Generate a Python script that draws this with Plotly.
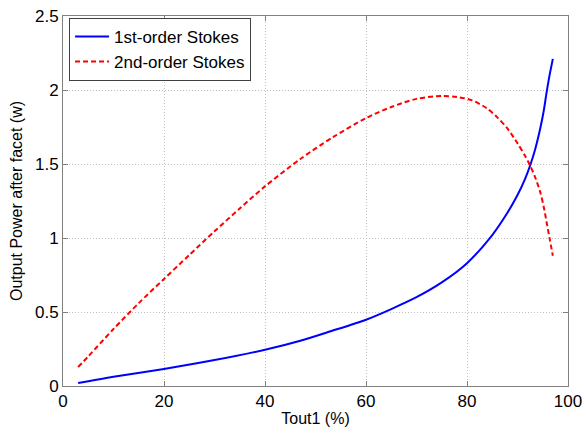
import plotly.graph_objects as go

# 1st-order Stokes
x1 = [3, 10, 20, 30, 40, 47, 53, 60, 65, 70, 75, 80, 85, 88, 90, 91.5, 92.5, 93.5, 94.5, 95.2, 95.7, 96.3, 97]
y1 = [0.02, 0.062, 0.115, 0.175, 0.245, 0.306, 0.37, 0.448, 0.52, 0.60, 0.70, 0.83, 1.02, 1.17, 1.29, 1.40, 1.49, 1.60, 1.74, 1.86, 1.97, 2.09, 2.21]

# 2nd-order Stokes
x2 = [3, 5, 10, 15, 20, 25, 30, 35, 40, 47, 53.4, 60, 65, 70, 75, 78, 81, 84, 86, 88, 90, 91.5, 92.5, 93.5, 94.5, 95.2, 95.8, 96.4, 97]
y2 = [0.128, 0.2, 0.385, 0.56, 0.723, 0.885, 1.045, 1.2, 1.349, 1.534, 1.68, 1.81, 1.885, 1.94, 1.96, 1.953, 1.93, 1.875, 1.815, 1.74, 1.64, 1.555, 1.49, 1.41, 1.31, 1.21, 1.10, 0.99, 0.88]

fig = go.Figure()
fig.add_trace(go.Scatter(x=x1, y=y1, mode="lines", name="1st-order Stokes",
                         line=dict(color="#0000ff", width=2, shape="spline", smoothing=0.8)))
fig.add_trace(go.Scatter(x=x2, y=y2, mode="lines", name="2nd-order Stokes",
                         line=dict(color="#ff0000", width=2, dash="5px,3px", shape="spline", smoothing=0.8)))

axis_common = dict(showline=True, linecolor="#808080", linewidth=1, mirror="ticks",
                   ticks="inside", ticklen=5, tickcolor="#808080",
                   showgrid=True, gridcolor="#c0c0c0", griddash="1px,2px", gridwidth=1,
                   zeroline=False, automargin=False,
                   tickfont=dict(size=17, color="black"),
                   title_font=dict(size=16, color="black"))

fig.update_xaxes(range=[0, 100], tickvals=[0, 20, 40, 60, 80, 100],
                 title_text="Tout1 (%)", title_standoff=2, **axis_common)
fig.update_yaxes(range=[0, 2.5], tickvals=[0, 0.5, 1, 1.5, 2, 2.5],
                 ticktext=["0", "0.5", "1", "1.5", "2", "2.5"],
                 title_text="Output Power after facet (w)", title_standoff=8, **axis_common)

fig.update_layout(
    width=585, height=428,
    margin=dict(l=63, r=17, t=16, b=42),
    paper_bgcolor="white", plot_bgcolor="white",
    font=dict(family="Liberation Sans, Arial, sans-serif", color="black"),
    legend=dict(x=0.012, y=0.995, xanchor="left", yanchor="top",
                bgcolor="white", bordercolor="#404040", borderwidth=1,
                font=dict(size=17), itemwidth=34, tracegroupgap=0),
    showlegend=True,
)

fig.write_html("out.html")
